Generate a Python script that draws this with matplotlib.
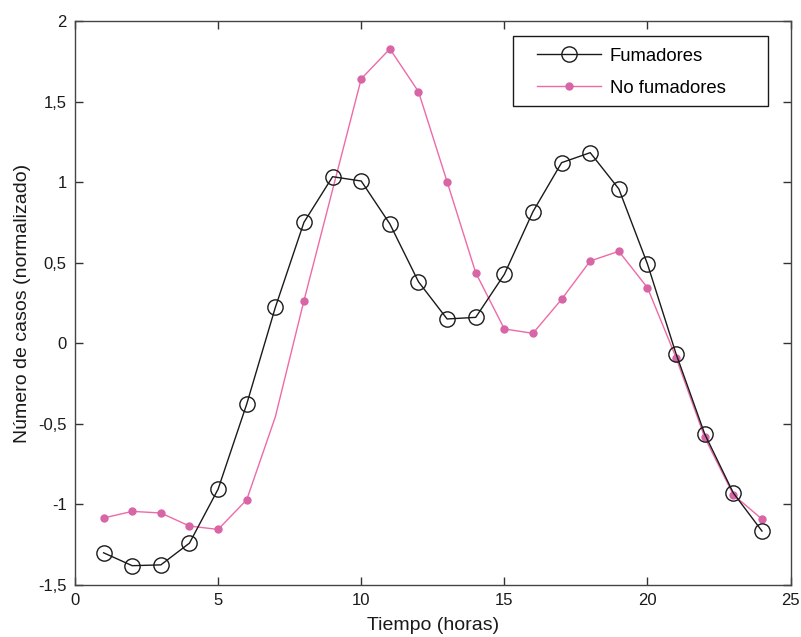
import numpy as np
import matplotlib
matplotlib.use("Agg")
import matplotlib.pyplot as plt
from matplotlib.patches import Rectangle
from matplotlib.ticker import FuncFormatter

plt.rcParams['font.family'] = ['Liberation Sans', 'DejaVu Sans']
plt.rcParams['axes.unicode_minus'] = False

# Datos
horas = list(range(1, 25))
fumadores = [-1.30, -1.38, -1.375, -1.24, -0.905, -0.377, 0.223, 0.751,
             1.034, 1.007, 0.741, 0.382, 0.151, 0.161, 0.428, 0.817,
             1.121, 1.183, 0.958, 0.492, -0.066, -0.563, -0.929, -1.165]

horas_nf = [1, 2, 3, 4, 5, 6, 7, 8, 10, 11, 12, 13, 14, 15, 16, 17,
            18, 19, 20, 21, 22, 23, 24]
no_fumadores = [-1.084, -1.043, -1.053, -1.134, -1.155, -0.971, -0.456,
                0.265, 1.641, 1.827, 1.562, 1.003, 0.438, 0.089, 0.062,
                0.273, 0.511, 0.571, 0.345, -0.089, -0.584, -0.940, -1.091]
sin_marcador = [6]  # índice del punto en x=7 (sin marcador)

fig = plt.figure(figsize=(8.01, 6.37), dpi=100)
ax = fig.add_axes([0.0936, 0.0816, 0.8934, 0.8854])

ax.plot(horas, fumadores, color='#1a1a1a', lw=1.0, marker='o', ms=11,
        mfc='none', mec='#1a1a1a', mew=1.0, label='Fumadores', zorder=3)
marcas = [i for i in range(len(horas_nf)) if i not in sin_marcador]
ax.plot(horas_nf, no_fumadores, color='#ee6aa7', lw=1.0, marker='o', ms=5,
        mfc='#d865a6', mec='#d865a6', markevery=marcas,
        label='No fumadores', zorder=2)

ax.set_xlim(0, 25)
ax.set_ylim(-1.5, 2)
ax.set_xticks([0, 5, 10, 15, 20, 25])
ax.set_yticks(np.arange(-1.5, 2.01, 0.5))
ax.yaxis.set_major_formatter(FuncFormatter(lambda v, p: f"{v:g}".replace('.', ',')))

ax.tick_params(direction='in', length=6, width=1, colors='#333333',
               labelcolor='#1a1a1a', labelsize=12, top=True, right=True, pad=6)
for s in ax.spines.values():
    s.set_color('#444444')
    s.set_linewidth(1.0)

ax.set_xlabel('Tiempo (horas)', fontsize=14, labelpad=6, color='#1a1a1a')
ax.set_ylabel('Número de casos (normalizado)', fontsize=14, labelpad=5, color='#1a1a1a')

# marco de la leyenda, más ancho que su contenido
ax.add_patch(Rectangle((0.612, 0.849), 0.3565, 0.124, transform=ax.transAxes,
                       facecolor='white', edgecolor='#1a1a1a', lw=1.0, zorder=4))
leg = ax.legend(loc='upper left', bbox_to_anchor=(0.6454, 0.953), fontsize=13.3,
                frameon=False, borderpad=0, borderaxespad=0,
                handlelength=3.5, handletextpad=0.45, labelspacing=0.83)
leg.set_zorder(5)

fig.savefig('out.png', dpi=100)
